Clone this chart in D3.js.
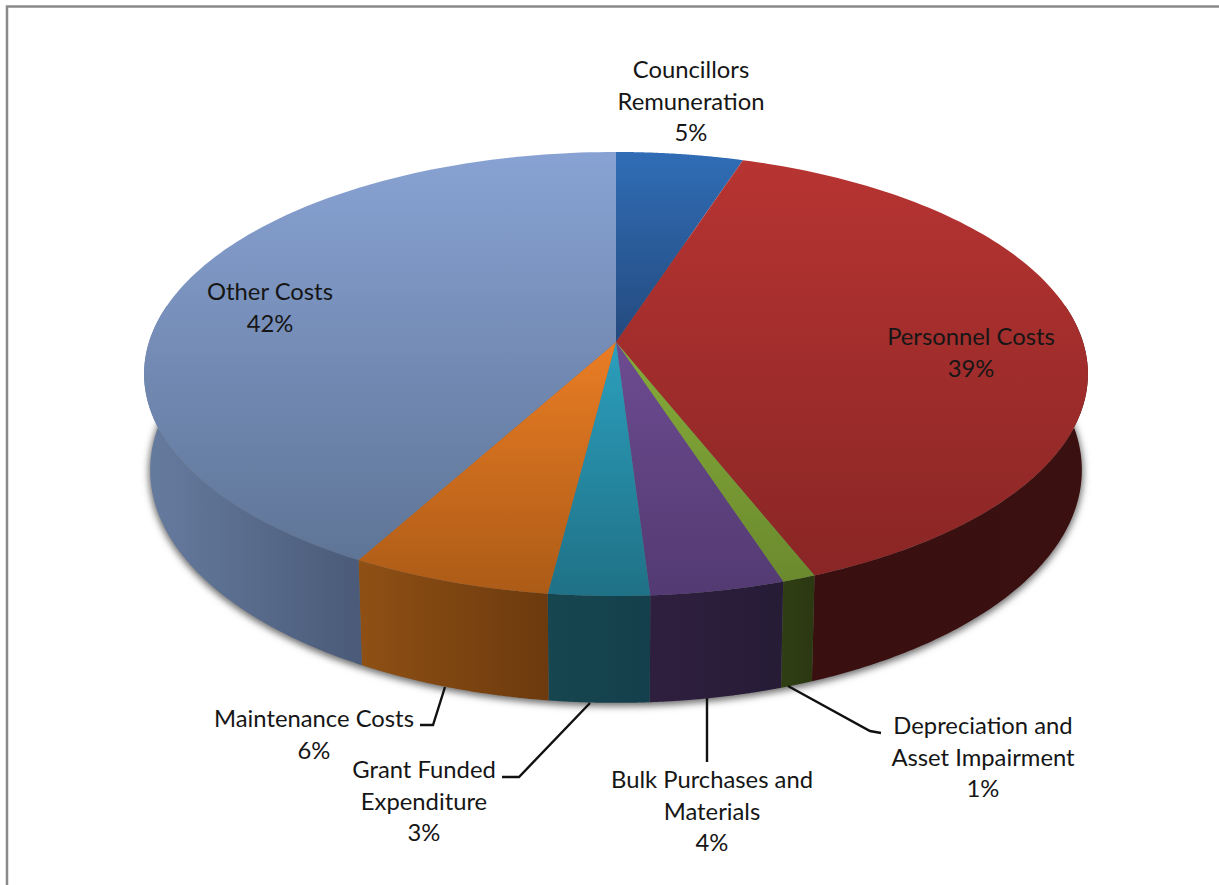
<!DOCTYPE html>
<html>
<head>
<meta charset="utf-8">
<script src="https://cdn.jsdelivr.net/npm/d3@7"></script>
<style>
  html, body { margin: 0; padding: 0; background: #fff; }
  svg { display: block; }
  text { font-family: Lato, "Open Sans", sans-serif; font-size: 23.8px; fill: #161616; text-anchor: middle; }
</style>
</head>
<body>
<svg id="chart" width="1219" height="885"></svg>
<script>
// Expenditure shares, clockwise from twelve o'clock.
const categories = [
  "Councillors Remuneration", "Personnel Costs", "Depreciation and Asset Impairment",
  "Bulk Purchases and Materials", "Grant Funded Expenditure", "Maintenance Costs", "Other Costs"
];
const shares = [5, 39, 1, 4, 3, 6, 42];

// Colours of each slice: lid gradient and rim gradient.
const lidTop    = ["#306db6", "#b73432", "#86ab39", "#6d4b91", "#2c9fbd", "#ea7d24", "#88a2d3"];
const lidBottom = ["#244a7e", "#892625", "#6b8a2e", "#533a72", "#1f7186", "#ac5b17", "#5f7597"];
const rimLeft   = ["#1d3557", "#3a0f0f", "#2f3f13", "#2f1f3f", "#16464f", "#8f5014", "#667c9f"];
const rimRight  = ["#1d3557", "#3b1010", "#2b3812", "#261c36", "#143f4c", "#6c3a0e", "#4a5a78"];

// Layout of the data labels and their leader lines.
const labelLayout = [
  { lines: ["Councillors", "Remuneration"], x: 691, y: 78 },
  { lines: ["Personnel Costs"], x: 971, y: 345 },
  { lines: ["Depreciation and", "Asset Impairment"], x: 983, y: 734 },
  { lines: ["Bulk Purchases and", "Materials"], x: 712, y: 788 },
  { lines: ["Grant Funded", "Expenditure"], x: 424, y: 778 },
  { lines: ["Maintenance Costs"], x: 314, y: 727 },
  { lines: ["Other Costs"], x: 270, y: 300 }
];
const lineStep = 31.5;
const leaderPaths = [
  [[788, 686], [870, 731], [881, 733]],
  [[707, 698], [707, 762]],
  [[590, 703], [519, 777], [502, 777]],
  [[445, 687], [433, 725], [420, 725]]
];

// Perspective view of the disc: the lid and the lower rim are seen from
// slightly different heights, so each has its own centre and half-axes.
const tilt = 0.144;
const lidView = { x: 616, y: 342, ax: 467, ay: 217.4 };
const rimView = { x: 616, y: 436.5, ax: 461, ay: 228 };
const visibleFrom = 80 * Math.PI / 180, visibleTo = 280 * Math.PI / 180;

const project = (angle, v) => {
  const X = Math.sin(angle), Y = -Math.cos(angle), w = 1 - tilt * Y;
  return [v.x + v.ax * X / w, v.y + v.ay * Y / w];
};
const arcPoints = (a0, a1, v) =>
  d3.range(0, 121).map(i => project(a0 + (a1 - a0) * i / 120, v));

const svg = d3.select("#chart");
const defs = svg.append("defs");
const linePath = d3.line();
const pie = d3.pie().sort(null);
const slices = pie(shares);

// Panel frame, running off the right and bottom edges.
svg.append("path")
  .attr("d", linePath([[7, 885], [7, 6.5], [1219, 6.5]]))
  .attr("fill", "none").attr("stroke", "#8a8a8a").attr("stroke-width", 2.5);

// Gradients.
slices.forEach((s, i) => {
  const lid = defs.append("linearGradient").attr("id", `lid${i}`)
    .attr("x1", 0).attr("y1", 0).attr("x2", 0).attr("y2", 1);
  lid.append("stop").attr("offset", 0).attr("stop-color", lidTop[i]);
  lid.append("stop").attr("offset", 1).attr("stop-color", lidBottom[i]);
  const rim = defs.append("linearGradient").attr("id", `rim${i}`)
    .attr("x1", 0).attr("y1", 0).attr("x2", 1).attr("y2", 0);
  rim.append("stop").attr("offset", 0).attr("stop-color", rimLeft[i]);
  rim.append("stop").attr("offset", 1).attr("stop-color", rimRight[i]);
});
const soft = defs.append("filter").attr("id", "soft")
  .attr("x", "-5%").attr("y", "-5%").attr("width", "110%").attr("height", "110%");
soft.append("feGaussianBlur").attr("stdDeviation", 3.5);

// Soft shadow below the disc.
svg.append("path")
  .attr("d", linePath(arcPoints(0, 2 * Math.PI, rimView)) + "Z")
  .attr("transform", "translate(0,2)")
  .attr("fill", "#6e6e6e").attr("stroke", "#6e6e6e").attr("stroke-width", 3)
  .attr("filter", "url(#soft)");

// Rim faces; the lid later hides everything above its edge.
svg.append("g").selectAll("path")
  .data(slices.filter(s => s.endAngle > visibleFrom && s.startAngle < visibleTo))
  .join("path")
  .attr("d", s => {
    const a0 = Math.max(s.startAngle, visibleFrom);
    const a1 = Math.min(s.endAngle, visibleTo);
    return linePath(arcPoints(a0, a1, lidView).concat(arcPoints(a1, a0, rimView))) + "Z";
  })
  .attr("fill", s => `url(#rim${s.index})`);

// Lid slices.
svg.append("g").selectAll("path")
  .data(slices)
  .join("path")
  .attr("d", s => linePath([[lidView.x, lidView.y]].concat(arcPoints(s.startAngle, s.endAngle, lidView))) + "Z")
  .attr("fill", s => `url(#lid${s.index})`);

// Leader lines.
svg.append("g").selectAll("path")
  .data(leaderPaths)
  .join("path")
  .attr("d", linePath)
  .attr("fill", "none").attr("stroke", "#111").attr("stroke-width", 2.4);

// Data labels: name lines followed by the share.
const labels = svg.append("g").selectAll("text")
  .data(labelLayout)
  .join("text")
  .attr("aria-label", (d, i) => categories[i]);
labels.selectAll("tspan")
  .data((d, i) => d.lines.concat(`${shares[i]}%`).map((t, k) => ({ t, k, d })))
  .join("tspan")
  .attr("x", e => e.d.x)
  .attr("y", e => e.d.y + e.k * lineStep)
  .text(e => e.t);
</script>
</body>
</html>
